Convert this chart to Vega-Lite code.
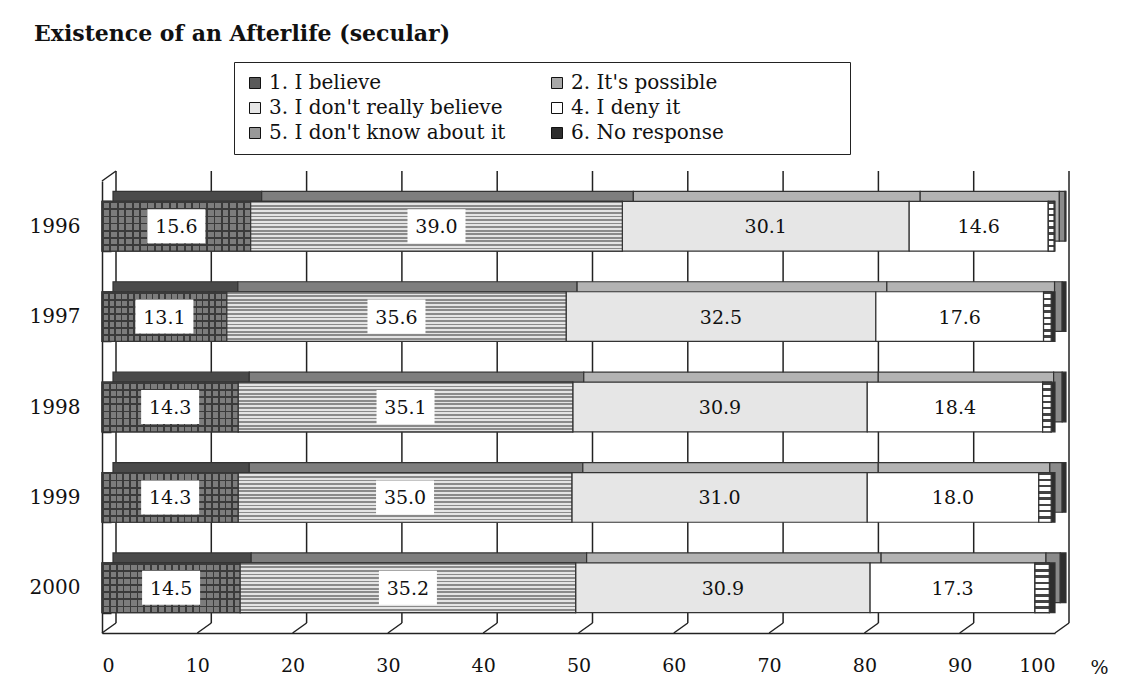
{
  "$schema": "https://vega.github.io/schema/vega-lite/v6.json",
  "width": 953,
  "height": 452,
  "autosize": "none",
  "padding": {"left": 102, "top": 181, "right": 71, "bottom": 59},
  "background": "white",
  "title": {"text": "Existence of an Afterlife (secular)", "anchor": "start", "frame": "group", "dx": -68, "dy": 23, "offset": 22, "baseline": "alphabetic", "font": "DejaVu Serif", "fontSize": 22, "fontWeight": "bold", "color": "#111"},
  "layer": [
    {
      "data": {"values": [{"v": 0}, {"v": 10}, {"v": 20}, {"v": 30}, {"v": 40}, {"v": 50}, {"v": 60}, {"v": 70}, {"v": 80}, {"v": 90}, {"v": 100}]},
      "layer": [
        {
          "mark": {"type": "rule", "color": "#222", "strokeWidth": 1.5, "xOffset": 14, "yOffset": -10, "y2Offset": -10},
          "encoding": {
            "x": {"field": "v", "type": "quantitative", "scale": {"domain": [0, 100], "nice": false}, "title": "%"},
            "y": {"datum": 0, "type": "quantitative", "scale": {"domain": [0, 1], "nice": false}, "axis": null},
            "y2": {"datum": 1}
          }
        },
        {
          "mark": {"type": "rule", "color": "#222", "strokeWidth": 1.5, "x2Offset": 14, "y2Offset": -10},
          "encoding": {
            "x": {"field": "v", "type": "quantitative", "title": "%"},
            "x2": {"field": "v"},
            "y": {"datum": 0, "type": "quantitative", "axis": null},
            "y2": {"datum": 0}
          }
        },
        {
          "transform": [{"filter": "datum.v == 0"}],
          "mark": {"type": "rule", "color": "#222", "strokeWidth": 1.5, "x2Offset": 14, "y2Offset": -10},
          "encoding": {
            "x": {"field": "v", "type": "quantitative", "title": "%"},
            "x2": {"field": "v"},
            "y": {"datum": 1, "type": "quantitative", "axis": null},
            "y2": {"datum": 1}
          }
        }
      ]
    },
    {
      "data": {"values": [
        {"year": "1996", "answer": "1. I believe", "value": 15.6},
        {"year": "1996", "answer": "2. It's possible", "value": 39.0},
        {"year": "1996", "answer": "3. I don't really believe", "value": 30.1},
        {"year": "1996", "answer": "4. I deny it", "value": 14.6},
        {"year": "1996", "answer": "5. I don't know about it", "value": 0.6},
        {"year": "1996", "answer": "6. No response", "value": 0.1},
        {"year": "1997", "answer": "1. I believe", "value": 13.1},
        {"year": "1997", "answer": "2. It's possible", "value": 35.6},
        {"year": "1997", "answer": "3. I don't really believe", "value": 32.5},
        {"year": "1997", "answer": "4. I deny it", "value": 17.6},
        {"year": "1997", "answer": "5. I don't know about it", "value": 0.8},
        {"year": "1997", "answer": "6. No response", "value": 0.4},
        {"year": "1998", "answer": "1. I believe", "value": 14.3},
        {"year": "1998", "answer": "2. It's possible", "value": 35.1},
        {"year": "1998", "answer": "3. I don't really believe", "value": 30.9},
        {"year": "1998", "answer": "4. I deny it", "value": 18.4},
        {"year": "1998", "answer": "5. I don't know about it", "value": 0.9},
        {"year": "1998", "answer": "6. No response", "value": 0.4},
        {"year": "1999", "answer": "1. I believe", "value": 14.3},
        {"year": "1999", "answer": "2. It's possible", "value": 35.0},
        {"year": "1999", "answer": "3. I don't really believe", "value": 31.0},
        {"year": "1999", "answer": "4. I deny it", "value": 18.0},
        {"year": "1999", "answer": "5. I don't know about it", "value": 1.3},
        {"year": "1999", "answer": "6. No response", "value": 0.4},
        {"year": "2000", "answer": "1. I believe", "value": 14.5},
        {"year": "2000", "answer": "2. It's possible", "value": 35.2},
        {"year": "2000", "answer": "3. I don't really believe", "value": 30.9},
        {"year": "2000", "answer": "4. I deny it", "value": 17.3},
        {"year": "2000", "answer": "5. I don't know about it", "value": 1.5},
        {"year": "2000", "answer": "6. No response", "value": 0.6}
      ]},
      "transform": [
        {"stack": "value", "groupby": ["year"], "sort": [{"field": "answer", "order": "ascending"}], "as": ["x0", "x1"]},
        {"calculate": "(datum.x0 + datum.x1) / 2", "as": "mid"}
      ],
      "encoding": {"y": {"field": "year", "type": "nominal", "title": null}},
      "layer": [
        {
          "mark": {"type": "bar", "xOffset": 11, "x2Offset": 11, "yOffset": -10, "y2Offset": -10, "stroke": "#333", "strokeWidth": 1.2},
          "encoding": {
            "x": {"field": "x0", "type": "quantitative", "scale": {"domain": [0, 100], "nice": false}, "title": "%"},
            "x2": {"field": "x1"},
            "fill": {"field": "answer", "type": "nominal", "scale": {"range": ["#4a4a4a", "#7e7e7e", "#b3b3b3", "#b3b3b3", "#8a8a8a", "#2e2e2e"]}, "legend": null}
          }
        },
        {
          "mark": {"type": "bar", "stroke": "#333", "strokeWidth": 1.2},
          "encoding": {
            "x": {"field": "x0", "type": "quantitative", "title": "%"},
            "x2": {"field": "x1"},
            "color": {"field": "answer", "type": "nominal",
              "scale": {"range": ["#5a5a5a", "#a8a8a8", "#e6e6e6", "#ffffff", "#999999", "#2e2e2e"]},
              "legend": {"orient": "none", "legendX": 132, "legendY": -119, "columns": 2, "direction": "horizontal", "title": "\u00a0", "titleOrient": "right", "titlePadding": 115,
                "symbolType": "square", "symbolSize": 121, "symbolStrokeColor": "#111", "symbolStrokeWidth": 1, "symbolOpacity": 1,
                "labelFont": "DejaVu Serif", "labelFontSize": 20, "labelColor": "#111", "labelOffset": 4, "labelLimit": 400,
                "rowPadding": 5, "columnPadding": 41, "padding": 11, "strokeColor": "#222", "fillColor": "white"}}
          }
        },
        {
          "transform": [{"filter": {"field": "answer", "equal": "1. I believe"}}],
          "mark": {"type": "bar", "stroke": "#333", "strokeWidth": 1.2,
            "fill": {"gradient": "linear", "x1": 0, "y1": 0, "x2": 1, "y2": 0, "stops": [
              {"offset": 0, "color": "#3a3a3a"}, {"offset": 0.0125, "color": "#3a3a3a"}, {"offset": 0.0125, "color": "#7c7c7c"}, {"offset": 0.05, "color": "#7c7c7c"},
              {"offset": 0.05, "color": "#3a3a3a"}, {"offset": 0.0625, "color": "#3a3a3a"}, {"offset": 0.0625, "color": "#7c7c7c"}, {"offset": 0.1, "color": "#7c7c7c"},
              {"offset": 0.1, "color": "#3a3a3a"}, {"offset": 0.1125, "color": "#3a3a3a"}, {"offset": 0.1125, "color": "#7c7c7c"}, {"offset": 0.15, "color": "#7c7c7c"},
              {"offset": 0.15, "color": "#3a3a3a"}, {"offset": 0.1625, "color": "#3a3a3a"}, {"offset": 0.1625, "color": "#7c7c7c"}, {"offset": 0.2, "color": "#7c7c7c"},
              {"offset": 0.2, "color": "#3a3a3a"}, {"offset": 0.2125, "color": "#3a3a3a"}, {"offset": 0.2125, "color": "#7c7c7c"}, {"offset": 0.25, "color": "#7c7c7c"},
              {"offset": 0.25, "color": "#3a3a3a"}, {"offset": 0.2625, "color": "#3a3a3a"}, {"offset": 0.2625, "color": "#7c7c7c"}, {"offset": 0.3, "color": "#7c7c7c"},
              {"offset": 0.3, "color": "#3a3a3a"}, {"offset": 0.3125, "color": "#3a3a3a"}, {"offset": 0.3125, "color": "#7c7c7c"}, {"offset": 0.35, "color": "#7c7c7c"},
              {"offset": 0.35, "color": "#3a3a3a"}, {"offset": 0.3625, "color": "#3a3a3a"}, {"offset": 0.3625, "color": "#7c7c7c"}, {"offset": 0.4, "color": "#7c7c7c"},
              {"offset": 0.4, "color": "#3a3a3a"}, {"offset": 0.4125, "color": "#3a3a3a"}, {"offset": 0.4125, "color": "#7c7c7c"}, {"offset": 0.45, "color": "#7c7c7c"},
              {"offset": 0.45, "color": "#3a3a3a"}, {"offset": 0.4625, "color": "#3a3a3a"}, {"offset": 0.4625, "color": "#7c7c7c"}, {"offset": 0.5, "color": "#7c7c7c"},
              {"offset": 0.5, "color": "#3a3a3a"}, {"offset": 0.5125, "color": "#3a3a3a"}, {"offset": 0.5125, "color": "#7c7c7c"}, {"offset": 0.55, "color": "#7c7c7c"},
              {"offset": 0.55, "color": "#3a3a3a"}, {"offset": 0.5625, "color": "#3a3a3a"}, {"offset": 0.5625, "color": "#7c7c7c"}, {"offset": 0.6, "color": "#7c7c7c"},
              {"offset": 0.6, "color": "#3a3a3a"}, {"offset": 0.6125, "color": "#3a3a3a"}, {"offset": 0.6125, "color": "#7c7c7c"}, {"offset": 0.65, "color": "#7c7c7c"},
              {"offset": 0.65, "color": "#3a3a3a"}, {"offset": 0.6625, "color": "#3a3a3a"}, {"offset": 0.6625, "color": "#7c7c7c"}, {"offset": 0.7, "color": "#7c7c7c"},
              {"offset": 0.7, "color": "#3a3a3a"}, {"offset": 0.7125, "color": "#3a3a3a"}, {"offset": 0.7125, "color": "#7c7c7c"}, {"offset": 0.75, "color": "#7c7c7c"},
              {"offset": 0.75, "color": "#3a3a3a"}, {"offset": 0.7625, "color": "#3a3a3a"}, {"offset": 0.7625, "color": "#7c7c7c"}, {"offset": 0.8, "color": "#7c7c7c"},
              {"offset": 0.8, "color": "#3a3a3a"}, {"offset": 0.8125, "color": "#3a3a3a"}, {"offset": 0.8125, "color": "#7c7c7c"}, {"offset": 0.85, "color": "#7c7c7c"},
              {"offset": 0.85, "color": "#3a3a3a"}, {"offset": 0.8625, "color": "#3a3a3a"}, {"offset": 0.8625, "color": "#7c7c7c"}, {"offset": 0.9, "color": "#7c7c7c"},
              {"offset": 0.9, "color": "#3a3a3a"}, {"offset": 0.9125, "color": "#3a3a3a"}, {"offset": 0.9125, "color": "#7c7c7c"}, {"offset": 0.95, "color": "#7c7c7c"},
              {"offset": 0.95, "color": "#3a3a3a"}, {"offset": 0.9625, "color": "#3a3a3a"}, {"offset": 0.9625, "color": "#7c7c7c"}, {"offset": 1, "color": "#7c7c7c"}
            ]}},
          "encoding": {"x": {"field": "x0", "type": "quantitative", "title": "%"}, "x2": {"field": "x1"}}
        },
        {
          "transform": [{"filter": {"field": "answer", "equal": "1. I believe"}}],
          "mark": {"type": "bar", "strokeWidth": 0,
            "fill": {"gradient": "linear", "x1": 0, "y1": 0, "x2": 0, "y2": 1, "stops": [
              {"offset": 0, "color": "rgba(58,58,58,1)"}, {"offset": 0.0357, "color": "rgba(58,58,58,1)"}, {"offset": 0.0357, "color": "rgba(58,58,58,0)"}, {"offset": 0.1429, "color": "rgba(58,58,58,0)"},
              {"offset": 0.1429, "color": "rgba(58,58,58,1)"}, {"offset": 0.1786, "color": "rgba(58,58,58,1)"}, {"offset": 0.1786, "color": "rgba(58,58,58,0)"}, {"offset": 0.2857, "color": "rgba(58,58,58,0)"},
              {"offset": 0.2857, "color": "rgba(58,58,58,1)"}, {"offset": 0.3214, "color": "rgba(58,58,58,1)"}, {"offset": 0.3214, "color": "rgba(58,58,58,0)"}, {"offset": 0.4286, "color": "rgba(58,58,58,0)"},
              {"offset": 0.4286, "color": "rgba(58,58,58,1)"}, {"offset": 0.4643, "color": "rgba(58,58,58,1)"}, {"offset": 0.4643, "color": "rgba(58,58,58,0)"}, {"offset": 0.5714, "color": "rgba(58,58,58,0)"},
              {"offset": 0.5714, "color": "rgba(58,58,58,1)"}, {"offset": 0.6071, "color": "rgba(58,58,58,1)"}, {"offset": 0.6071, "color": "rgba(58,58,58,0)"}, {"offset": 0.7143, "color": "rgba(58,58,58,0)"},
              {"offset": 0.7143, "color": "rgba(58,58,58,1)"}, {"offset": 0.75, "color": "rgba(58,58,58,1)"}, {"offset": 0.75, "color": "rgba(58,58,58,0)"}, {"offset": 0.8571, "color": "rgba(58,58,58,0)"},
              {"offset": 0.8571, "color": "rgba(58,58,58,1)"}, {"offset": 0.8929, "color": "rgba(58,58,58,1)"}, {"offset": 0.8929, "color": "rgba(58,58,58,0)"}, {"offset": 1, "color": "rgba(58,58,58,0)"}
            ]}},
          "encoding": {"x": {"field": "x0", "type": "quantitative", "title": "%"}, "x2": {"field": "x1"}}
        },
        {
          "transform": [{"filter": {"field": "answer", "equal": "2. It's possible"}}],
          "mark": {"type": "bar", "stroke": "#333", "strokeWidth": 1.2,
            "fill": {"gradient": "linear", "x1": 0, "y1": 0, "x2": 0, "y2": 1, "stops": [
              {"offset": 0, "color": "#8a8a8a"}, {"offset": 0.0357, "color": "#8a8a8a"}, {"offset": 0.0357, "color": "#e4e4e4"}, {"offset": 0.0714, "color": "#e4e4e4"},
              {"offset": 0.0714, "color": "#8a8a8a"}, {"offset": 0.1071, "color": "#8a8a8a"}, {"offset": 0.1071, "color": "#e4e4e4"}, {"offset": 0.1429, "color": "#e4e4e4"},
              {"offset": 0.1429, "color": "#8a8a8a"}, {"offset": 0.1786, "color": "#8a8a8a"}, {"offset": 0.1786, "color": "#e4e4e4"}, {"offset": 0.2143, "color": "#e4e4e4"},
              {"offset": 0.2143, "color": "#8a8a8a"}, {"offset": 0.25, "color": "#8a8a8a"}, {"offset": 0.25, "color": "#e4e4e4"}, {"offset": 0.2857, "color": "#e4e4e4"},
              {"offset": 0.2857, "color": "#8a8a8a"}, {"offset": 0.3214, "color": "#8a8a8a"}, {"offset": 0.3214, "color": "#e4e4e4"}, {"offset": 0.3571, "color": "#e4e4e4"},
              {"offset": 0.3571, "color": "#8a8a8a"}, {"offset": 0.3929, "color": "#8a8a8a"}, {"offset": 0.3929, "color": "#e4e4e4"}, {"offset": 0.4286, "color": "#e4e4e4"},
              {"offset": 0.4286, "color": "#8a8a8a"}, {"offset": 0.4643, "color": "#8a8a8a"}, {"offset": 0.4643, "color": "#e4e4e4"}, {"offset": 0.5, "color": "#e4e4e4"},
              {"offset": 0.5, "color": "#8a8a8a"}, {"offset": 0.5357, "color": "#8a8a8a"}, {"offset": 0.5357, "color": "#e4e4e4"}, {"offset": 0.5714, "color": "#e4e4e4"},
              {"offset": 0.5714, "color": "#8a8a8a"}, {"offset": 0.6071, "color": "#8a8a8a"}, {"offset": 0.6071, "color": "#e4e4e4"}, {"offset": 0.6429, "color": "#e4e4e4"},
              {"offset": 0.6429, "color": "#8a8a8a"}, {"offset": 0.6786, "color": "#8a8a8a"}, {"offset": 0.6786, "color": "#e4e4e4"}, {"offset": 0.7143, "color": "#e4e4e4"},
              {"offset": 0.7143, "color": "#8a8a8a"}, {"offset": 0.75, "color": "#8a8a8a"}, {"offset": 0.75, "color": "#e4e4e4"}, {"offset": 0.7857, "color": "#e4e4e4"},
              {"offset": 0.7857, "color": "#8a8a8a"}, {"offset": 0.8214, "color": "#8a8a8a"}, {"offset": 0.8214, "color": "#e4e4e4"}, {"offset": 0.8571, "color": "#e4e4e4"},
              {"offset": 0.8571, "color": "#8a8a8a"}, {"offset": 0.8929, "color": "#8a8a8a"}, {"offset": 0.8929, "color": "#e4e4e4"}, {"offset": 0.9286, "color": "#e4e4e4"},
              {"offset": 0.9286, "color": "#8a8a8a"}, {"offset": 0.9643, "color": "#8a8a8a"}, {"offset": 0.9643, "color": "#e4e4e4"}, {"offset": 1, "color": "#e4e4e4"}
            ]}},
          "encoding": {"x": {"field": "x0", "type": "quantitative", "title": "%"}, "x2": {"field": "x1"}}
        },
        {
          "transform": [{"filter": {"field": "answer", "equal": "5. I don't know about it"}}],
          "mark": {"type": "bar", "stroke": "#333", "strokeWidth": 1.2,
            "fill": {"gradient": "linear", "x1": 0, "y1": 0, "x2": 0, "y2": 1, "stops": [
              {"offset": 0, "color": "#444444"}, {"offset": 0.05, "color": "#444444"}, {"offset": 0.05, "color": "#ffffff"}, {"offset": 0.125, "color": "#ffffff"},
              {"offset": 0.125, "color": "#444444"}, {"offset": 0.175, "color": "#444444"}, {"offset": 0.175, "color": "#ffffff"}, {"offset": 0.25, "color": "#ffffff"},
              {"offset": 0.25, "color": "#444444"}, {"offset": 0.3, "color": "#444444"}, {"offset": 0.3, "color": "#ffffff"}, {"offset": 0.375, "color": "#ffffff"},
              {"offset": 0.375, "color": "#444444"}, {"offset": 0.425, "color": "#444444"}, {"offset": 0.425, "color": "#ffffff"}, {"offset": 0.5, "color": "#ffffff"},
              {"offset": 0.5, "color": "#444444"}, {"offset": 0.55, "color": "#444444"}, {"offset": 0.55, "color": "#ffffff"}, {"offset": 0.625, "color": "#ffffff"},
              {"offset": 0.625, "color": "#444444"}, {"offset": 0.675, "color": "#444444"}, {"offset": 0.675, "color": "#ffffff"}, {"offset": 0.75, "color": "#ffffff"},
              {"offset": 0.75, "color": "#444444"}, {"offset": 0.8, "color": "#444444"}, {"offset": 0.8, "color": "#ffffff"}, {"offset": 0.875, "color": "#ffffff"},
              {"offset": 0.875, "color": "#444444"}, {"offset": 0.925, "color": "#444444"}, {"offset": 0.925, "color": "#ffffff"}, {"offset": 1, "color": "#ffffff"}
            ]}},
          "encoding": {"x": {"field": "x0", "type": "quantitative", "title": "%"}, "x2": {"field": "x1"}}
        },
        {
          "transform": [{"filter": {"field": "answer", "oneOf": ["1. I believe", "2. It's possible"]}}],
          "mark": {"type": "point", "shape": "M-1,-0.586H1V0.586H-1Z", "size": 3364, "filled": true, "fill": "white", "opacity": 1, "strokeWidth": 0},
          "encoding": {"x": {"field": "mid", "type": "quantitative", "title": "%"}}
        },
        {
          "transform": [{"filter": {"field": "answer", "oneOf": ["1. I believe", "2. It's possible", "3. I don't really believe", "4. I deny it"]}}],
          "mark": {"type": "text", "font": "DejaVu Serif", "fontSize": 19, "color": "#111", "baseline": "middle", "dy": 1},
          "encoding": {
            "x": {"field": "mid", "type": "quantitative", "title": "%"},
            "text": {"field": "value", "type": "quantitative", "format": ".1f"}
          }
        }
      ]
    }
  ],
  "resolve": {"scale": {"y": "independent"}},
  "config": {
    "font": "DejaVu Serif",
    "view": {"stroke": null},
    "scale": {"bandPaddingInner": 0.45, "bandPaddingOuter": 0.225},
    "axisX": {"domainColor": "#222", "domainWidth": 1.5, "ticks": false, "grid": false, "labelFont": "DejaVu Serif", "labelFontSize": 19, "labelColor": "#111", "labelPadding": 23, "tickCount": 10,
      "titleFont": "DejaVu Serif", "titleFontSize": 19, "titleFontWeight": "normal", "titleColor": "#111", "titleX": 997, "titleY": 40, "titleAlign": "center", "titleBaseline": "alphabetic"},
    "axisY": {"domainColor": "#222", "domainWidth": 1.5, "ticks": true, "tickBand": "extent", "tickSize": -9, "tickColor": "#222", "tickWidth": 1.5, "labelFont": "DejaVu Serif", "labelFontSize": 20, "labelColor": "#111", "labelPadding": 31, "grid": false}
  }
}
